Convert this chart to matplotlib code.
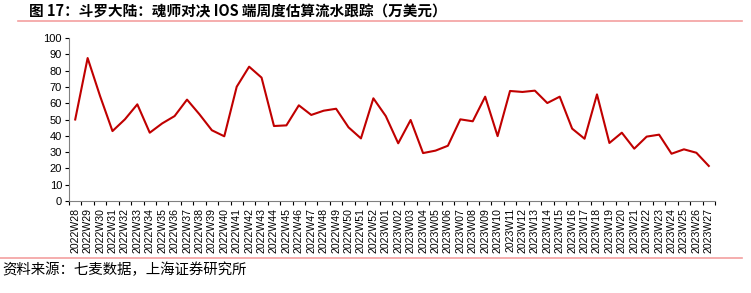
import matplotlib
matplotlib.use("Agg")
import matplotlib.pyplot as plt
from matplotlib.lines import Line2D
import numpy as np

plt.rcParams['font.family'] = ['Liberation Sans', 'Noto Sans CJK SC', 'DejaVu Sans']

weeks = [f"2022W{w}" for w in range(28, 53)] + [f"2023W{w:02d}" for w in range(1, 28)]
values = [50, 87.7, 64.4, 42.9, 50.1, 59.3, 41.9, 47.6, 52.1, 62.2, 53.2, 43.4, 39.7,
          70.1, 82.4, 75.7, 46, 46.4, 58.7, 52.8, 55.4, 56.6, 45.2, 38.4, 63,
          52.1, 35.4, 49.7, 29.4, 30.9, 33.9, 50.1, 48.9, 64, 39.8, 67.5, 66.9, 67.7,
          60.1, 64, 44.4, 38.2, 65.4, 35.6, 41.9, 32.1, 39.5, 40.7, 29, 31.7, 29.6, 21.5]

title = "图 17：斗罗大陆：魂师对决 IOS 端周度估算流水跟踪（万美元）"
source = "资料来源：七麦数据，上海证券研究所"

W, H = 751, 293
fig = plt.figure(figsize=(W / 100, H / 100), dpi=100)

left, right, top, bottom = 69, 715, 38, 201
ax = fig.add_axes([left / W, (H - bottom) / H, (right - left) / W, (bottom - top) / H])
x = np.arange(len(values))
ax.plot(x, values, color='#C00000', lw=1.5)
ax.set_xlim(-0.5, len(values) - 0.5)
ax.set_ylim(0, 100)
ax.set_yticks(range(0, 101, 10))
ax.tick_params(axis='y', labelsize=8, length=3, direction='out', width=0.8, colors='black', pad=2)
ax.set_xticks(x)
ax.set_xticklabels(weeks, rotation=90, fontsize=7.6)
ax.set_xticks(np.arange(-0.5, len(values)), minor=True)
ax.tick_params(axis='x', which='major', length=0, pad=5)
ax.tick_params(axis='x', which='minor', length=3, width=0.8, direction='out')
for s in ['top', 'right']:
    ax.spines[s].set_visible(False)
for s in ['left', 'bottom']:
    ax.spines[s].set_color('#808080')
    ax.spines[s].set_linewidth(0.8)

fig.text(29 / W, 1 - 11 / H, title, fontsize=10.5, fontweight='bold',
         family=['Noto Sans CJK SC', 'DejaVu Sans'], va='center', ha='left')
fig.add_artist(Line2D([18 / W, 742 / W], [1 - 20.5 / H, 1 - 20.5 / H], color='#F4A0A0', lw=1.2))
fig.add_artist(Line2D([0, 742 / W], [1 - 258 / H, 1 - 258 / H], color='#F4A0A0', lw=1.2))
fig.text(2 / W, 1 - 270 / H, source, fontsize=10.4, style='italic',
         family=['Noto Sans CJK SC', 'DejaVu Sans'], va='center', ha='left')

fig.savefig("out.png", dpi=100)
